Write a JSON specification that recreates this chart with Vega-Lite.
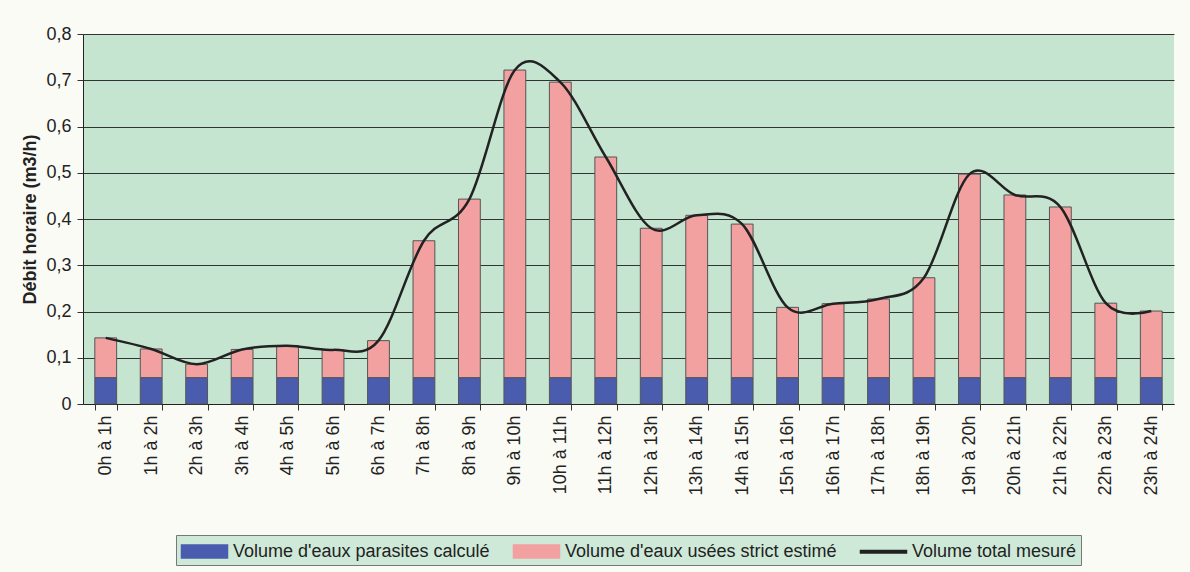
{
  "$schema": "https://vega.github.io/schema/vega-lite/v6.json",
  "width": 1091,
  "height": 370,
  "autosize": {"type": "none"},
  "padding": {"left": 83, "top": 34, "right": 16, "bottom": 168},
  "background": "#fbfbf5",
  "config": {
    "font": "Liberation Sans",
    "view": {"fill": "#c5e5d1", "stroke": null},
    "locale": {"number": {"decimal": ",", "thousands": " ", "grouping": [3], "currency": ["", " €"]}}
  },
  "datasets": {
    "barres": [
      {"tranche": "0h à 1h", "serie": "Volume d'eaux parasites calculé", "debit": 0.057},
      {"tranche": "0h à 1h", "serie": "Volume d'eaux usées strict estimé", "debit": 0.086},
      {"tranche": "1h à 2h", "serie": "Volume d'eaux parasites calculé", "debit": 0.057},
      {"tranche": "1h à 2h", "serie": "Volume d'eaux usées strict estimé", "debit": 0.062},
      {"tranche": "2h à 3h", "serie": "Volume d'eaux parasites calculé", "debit": 0.057},
      {"tranche": "2h à 3h", "serie": "Volume d'eaux usées strict estimé", "debit": 0.029},
      {"tranche": "3h à 4h", "serie": "Volume d'eaux parasites calculé", "debit": 0.057},
      {"tranche": "3h à 4h", "serie": "Volume d'eaux usées strict estimé", "debit": 0.061},
      {"tranche": "4h à 5h", "serie": "Volume d'eaux parasites calculé", "debit": 0.057},
      {"tranche": "4h à 5h", "serie": "Volume d'eaux usées strict estimé", "debit": 0.069},
      {"tranche": "5h à 6h", "serie": "Volume d'eaux parasites calculé", "debit": 0.057},
      {"tranche": "5h à 6h", "serie": "Volume d'eaux usées strict estimé", "debit": 0.060},
      {"tranche": "6h à 7h", "serie": "Volume d'eaux parasites calculé", "debit": 0.057},
      {"tranche": "6h à 7h", "serie": "Volume d'eaux usées strict estimé", "debit": 0.080},
      {"tranche": "7h à 8h", "serie": "Volume d'eaux parasites calculé", "debit": 0.057},
      {"tranche": "7h à 8h", "serie": "Volume d'eaux usées strict estimé", "debit": 0.296},
      {"tranche": "8h à 9h", "serie": "Volume d'eaux parasites calculé", "debit": 0.057},
      {"tranche": "8h à 9h", "serie": "Volume d'eaux usées strict estimé", "debit": 0.386},
      {"tranche": "9h à 10h", "serie": "Volume d'eaux parasites calculé", "debit": 0.057},
      {"tranche": "9h à 10h", "serie": "Volume d'eaux usées strict estimé", "debit": 0.665},
      {"tranche": "10h à 11h", "serie": "Volume d'eaux parasites calculé", "debit": 0.057},
      {"tranche": "10h à 11h", "serie": "Volume d'eaux usées strict estimé", "debit": 0.639},
      {"tranche": "11h à 12h", "serie": "Volume d'eaux parasites calculé", "debit": 0.057},
      {"tranche": "11h à 12h", "serie": "Volume d'eaux usées strict estimé", "debit": 0.477},
      {"tranche": "12h à 13h", "serie": "Volume d'eaux parasites calculé", "debit": 0.057},
      {"tranche": "12h à 13h", "serie": "Volume d'eaux usées strict estimé", "debit": 0.323},
      {"tranche": "13h à 14h", "serie": "Volume d'eaux parasites calculé", "debit": 0.057},
      {"tranche": "13h à 14h", "serie": "Volume d'eaux usées strict estimé", "debit": 0.351},
      {"tranche": "14h à 15h", "serie": "Volume d'eaux parasites calculé", "debit": 0.057},
      {"tranche": "14h à 15h", "serie": "Volume d'eaux usées strict estimé", "debit": 0.332},
      {"tranche": "15h à 16h", "serie": "Volume d'eaux parasites calculé", "debit": 0.057},
      {"tranche": "15h à 16h", "serie": "Volume d'eaux usées strict estimé", "debit": 0.152},
      {"tranche": "16h à 17h", "serie": "Volume d'eaux parasites calculé", "debit": 0.057},
      {"tranche": "16h à 17h", "serie": "Volume d'eaux usées strict estimé", "debit": 0.160},
      {"tranche": "17h à 18h", "serie": "Volume d'eaux parasites calculé", "debit": 0.057},
      {"tranche": "17h à 18h", "serie": "Volume d'eaux usées strict estimé", "debit": 0.170},
      {"tranche": "18h à 19h", "serie": "Volume d'eaux parasites calculé", "debit": 0.057},
      {"tranche": "18h à 19h", "serie": "Volume d'eaux usées strict estimé", "debit": 0.216},
      {"tranche": "19h à 20h", "serie": "Volume d'eaux parasites calculé", "debit": 0.057},
      {"tranche": "19h à 20h", "serie": "Volume d'eaux usées strict estimé", "debit": 0.440},
      {"tranche": "20h à 21h", "serie": "Volume d'eaux parasites calculé", "debit": 0.057},
      {"tranche": "20h à 21h", "serie": "Volume d'eaux usées strict estimé", "debit": 0.395},
      {"tranche": "21h à 22h", "serie": "Volume d'eaux parasites calculé", "debit": 0.057},
      {"tranche": "21h à 22h", "serie": "Volume d'eaux usées strict estimé", "debit": 0.369},
      {"tranche": "22h à 23h", "serie": "Volume d'eaux parasites calculé", "debit": 0.057},
      {"tranche": "22h à 23h", "serie": "Volume d'eaux usées strict estimé", "debit": 0.161},
      {"tranche": "23h à 24h", "serie": "Volume d'eaux parasites calculé", "debit": 0.057},
      {"tranche": "23h à 24h", "serie": "Volume d'eaux usées strict estimé", "debit": 0.144}
    ],
    "total": [
      {"tranche": "0h à 1h", "debit": 0.143},
      {"tranche": "1h à 2h", "debit": 0.119},
      {"tranche": "2h à 3h", "debit": 0.086},
      {"tranche": "3h à 4h", "debit": 0.118},
      {"tranche": "4h à 5h", "debit": 0.126},
      {"tranche": "5h à 6h", "debit": 0.117},
      {"tranche": "6h à 7h", "debit": 0.137},
      {"tranche": "7h à 8h", "debit": 0.353},
      {"tranche": "8h à 9h", "debit": 0.443},
      {"tranche": "9h à 10h", "debit": 0.722},
      {"tranche": "10h à 11h", "debit": 0.696},
      {"tranche": "11h à 12h", "debit": 0.534},
      {"tranche": "12h à 13h", "debit": 0.380},
      {"tranche": "13h à 14h", "debit": 0.408},
      {"tranche": "14h à 15h", "debit": 0.389},
      {"tranche": "15h à 16h", "debit": 0.209},
      {"tranche": "16h à 17h", "debit": 0.217},
      {"tranche": "17h à 18h", "debit": 0.227},
      {"tranche": "18h à 19h", "debit": 0.273},
      {"tranche": "19h à 20h", "debit": 0.497},
      {"tranche": "20h à 21h", "debit": 0.452},
      {"tranche": "21h à 22h", "debit": 0.426},
      {"tranche": "22h à 23h", "debit": 0.218},
      {"tranche": "23h à 24h", "debit": 0.201}
    ]
  },
  "encoding": {
    "x": {
      "field": "tranche",
      "type": "nominal",
      "sort": null,
      "scale": {"paddingInner": 0.52, "paddingOuter": 0.26},
      "axis": {
        "title": null,
        "labelAngle": -90,
        "labelFontSize": 18,
        "labelColor": "#222",
        "labelPadding": 5,
        "tickBand": "extent",
        "tickSize": 6,
        "tickColor": "#333",
        "domainColor": "#222",
        "grid": false
      }
    }
  },
  "layer": [
    {
      "data": {"name": "barres"},
      "mark": {"type": "bar", "stroke": "#555", "strokeWidth": 1},
      "encoding": {
        "y": {
          "field": "debit",
          "type": "quantitative",
          "stack": "zero",
          "scale": {"domain": [0, 0.8], "nice": false},
          "axis": {
            "title": "Débit horaire (m3/h)",
            "titleFontSize": 18,
            "titleFontWeight": "bold",
            "titleColor": "#222",
            "titlePadding": 6,
            "values": [0, 0.1, 0.2, 0.3, 0.4, 0.5, 0.6, 0.7, 0.8],
            "format": ".1~f",
            "labelFontSize": 18,
            "labelColor": "#222",
            "labelPadding": 6,
            "tickSize": 6,
            "tickColor": "#333",
            "domainColor": "#222",
            "grid": true,
            "gridColor": "#333",
            "gridWidth": 1
          }
        },
        "order": {"field": "serie", "sort": "ascending"},
        "color": {
          "field": "serie",
          "type": "nominal",
          "scale": {
            "domain": ["Volume d'eaux parasites calculé", "Volume d'eaux usées strict estimé", "Volume total mesuré"],
            "range": ["#4a5cae", "#f2a0a0", "#222222"]
          },
          "legend": {
            "title": null,
            "orient": "none",
            "legendX": 93,
            "legendY": 501,
            "direction": "horizontal",
            "labelFontSize": 18,
            "labelColor": "#222",
            "labelOffset": 16,
            "columnPadding": 20,
            "symbolSize": 529,
            "symbolOffset": 12,
            "symbolType": "M-2,-0.56H2V0.56H-2Z",
            "padding": 4,
            "fillColor": "#cfe9d8",
            "strokeColor": "#777",
            "labelLimit": 400
          }
        }
      }
    },
    {
      "data": {"name": "total"},
      "mark": {"type": "line", "interpolate": "cardinal", "strokeWidth": 2.5},
      "encoding": {
        "y": {"field": "debit", "type": "quantitative"},
        "color": {"datum": "Volume total mesuré", "legend": null}
      }
    },
    {
      "data": {"name": "total"},
      "mark": {"type": "point", "filled": true, "opacity": 0},
      "encoding": {
        "y": {"field": "debit", "type": "quantitative"},
        "color": {"datum": "Volume total mesuré", "legend": null},
        "shape": {
          "datum": "Volume total mesuré",
          "type": "nominal",
          "scale": {
            "domain": ["Volume d'eaux parasites calculé", "Volume d'eaux usées strict estimé", "Volume total mesuré"],
            "range": ["M-2,-0.56H2V0.56H-2Z", "M-2,-0.56H2V0.56H-2Z", "M-2,-0.11H2V0.11H-2Z"]
          },
          "legend": {
            "title": null,
            "orient": "none",
            "legendX": 93,
            "legendY": 501,
            "direction": "horizontal",
            "labelFontSize": 18,
            "labelColor": "#222",
            "labelOffset": 16,
            "columnPadding": 20,
            "symbolSize": 529,
            "symbolOffset": 12,
            "padding": 4,
            "fillColor": "#cfe9d8",
            "strokeColor": "#777",
            "labelLimit": 400
          }
        }
      }
    }
  ]
}
